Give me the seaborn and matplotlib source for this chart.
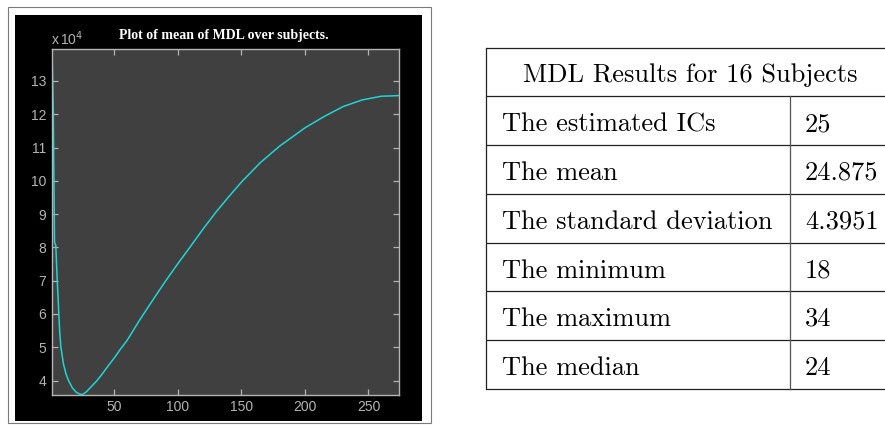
import numpy as np
import pandas as pd
import matplotlib
matplotlib.use("Agg")
import matplotlib.pyplot as plt
import seaborn as sns
from matplotlib.patches import Rectangle

# ---- data ----
n_ics = [1, 2, 3, 4, 5, 6, 7, 8, 10, 12, 14, 17, 20, 23, 25, 28, 32, 36, 40, 45,
         50, 55, 60, 70, 80, 90, 100, 110, 120, 130, 140, 150, 165, 180, 200, 215,
         230, 245, 260, 274]
mdl_mean_e4 = [13.96, 12.05, 8.16, 8.05, 7.1, 6.3, 5.5, 5.0, 4.5, 4.2, 4.0, 3.78,
               3.65, 3.59, 3.58, 3.66, 3.82, 3.98, 4.17, 4.43, 4.68, 4.95, 5.2, 5.82,
               6.4, 6.97, 7.51, 8.03, 8.56, 9.06, 9.52, 9.96, 10.55, 11.04, 11.59,
               11.93, 12.23, 12.43, 12.54, 12.56]
x_ticks = [50, 100, 150, 200, 250]
y_ticks = [4, 5, 6, 7, 8, 9, 10, 11, 12, 13]

table_title = "MDL Results for 16 Subjects"
row_labels = ["The estimated ICs", "The mean", "The standard deviation",
              "The minimum", "The maximum", "The median"]
row_values = ["25", "24.875", "4.3951", "18", "34", "24"]

df = pd.DataFrame({"k": n_ics, "mdl": np.array(mdl_mean_e4) * 1e4})

W, H = 885, 425
fig = plt.figure(figsize=(W / 100, H / 100), dpi=100)
fig.patch.set_facecolor("white")

# background axes in pixel coordinates
bg = fig.add_axes([0, 0, 1, 1], zorder=0)
bg.set_xlim(0, W)
bg.set_ylim(H, 0)
bg.axis("off")

# left figure frame + black matlab figure
bg.add_patch(Rectangle((7.5, 6.5), 423, 416, facecolor="white",
                       edgecolor="#7a7a7a", lw=0.8))
bg.add_patch(Rectangle((15, 15), 407, 406, facecolor="black", edgecolor="none"))

# table
tl, tr = 486, 893
row_y = [47.5, 96, 144.5, 193.5, 242.5, 291, 340, 389]
lc = "#222222"
for yy in row_y:
    bg.plot([tl, tr], [yy, yy], color=lc, lw=0.9, solid_capstyle="butt")
bg.plot([tl, tl], [row_y[0], row_y[-1]], color=lc, lw=0.9)
bg.plot([790, 790], [row_y[1], row_y[-1]], color="#555555", lw=0.9)
cm = "cmr10"
fs = 19
bg.text(690, row_y[0] + 34.3, table_title, family=cm, fontsize=fs,
        ha="center", va="baseline")
for i, (lab, val) in enumerate(zip(row_labels, row_values)):
    yb = row_y[i + 1] + 35
    bg.text(502, yb, lab, family=cm, fontsize=fs, ha="left", va="baseline")
    bg.text(805, yb, val, family=cm, fontsize=fs, ha="left", va="baseline")

# title and exponent label
bg.text(224, 35, "Plot of mean of MDL over subjects.", color="white",
        family="Liberation Serif", fontweight="bold", fontsize=10, ha="center",
        va="center")
bg.text(51, 39, r"x$\,$10$^{4}$", color="#b4b4b4", family="Liberation Sans",
        fontsize=10, ha="left", va="center")

# main plot axes
ax = fig.add_axes([52 / W, 1 - 394.5 / H, 347 / W, 345.5 / H], zorder=1)
ax.set_facecolor("#404040")
sns.lineplot(data=df, x="k", y="mdl", ax=ax, color="#1dd6d6", lw=1.1)
ax.set_xlim(1, 274)
ax.set_ylim(3.58e4, 13.96e4)
ax.set_xticks(x_ticks)
ax.set_yticks(np.array(y_ticks) * 1e4)
ax.set_xticklabels([str(v) for v in x_ticks])
ax.set_yticklabels([str(v) for v in y_ticks])
ax.set_xlabel("")
ax.set_ylabel("")
gc = "#b4b4b4"
for s in ax.spines.values():
    s.set_color(gc)
    s.set_linewidth(1.0)
ax.tick_params(direction="in", length=4, width=0.9, color=gc, labelcolor=gc,
               labelsize=10, top=True, right=True, pad=4)
for lab in ax.get_xticklabels() + ax.get_yticklabels():
    lab.set_family("Liberation Sans")

fig.savefig("out.png", dpi=100, facecolor="white")
